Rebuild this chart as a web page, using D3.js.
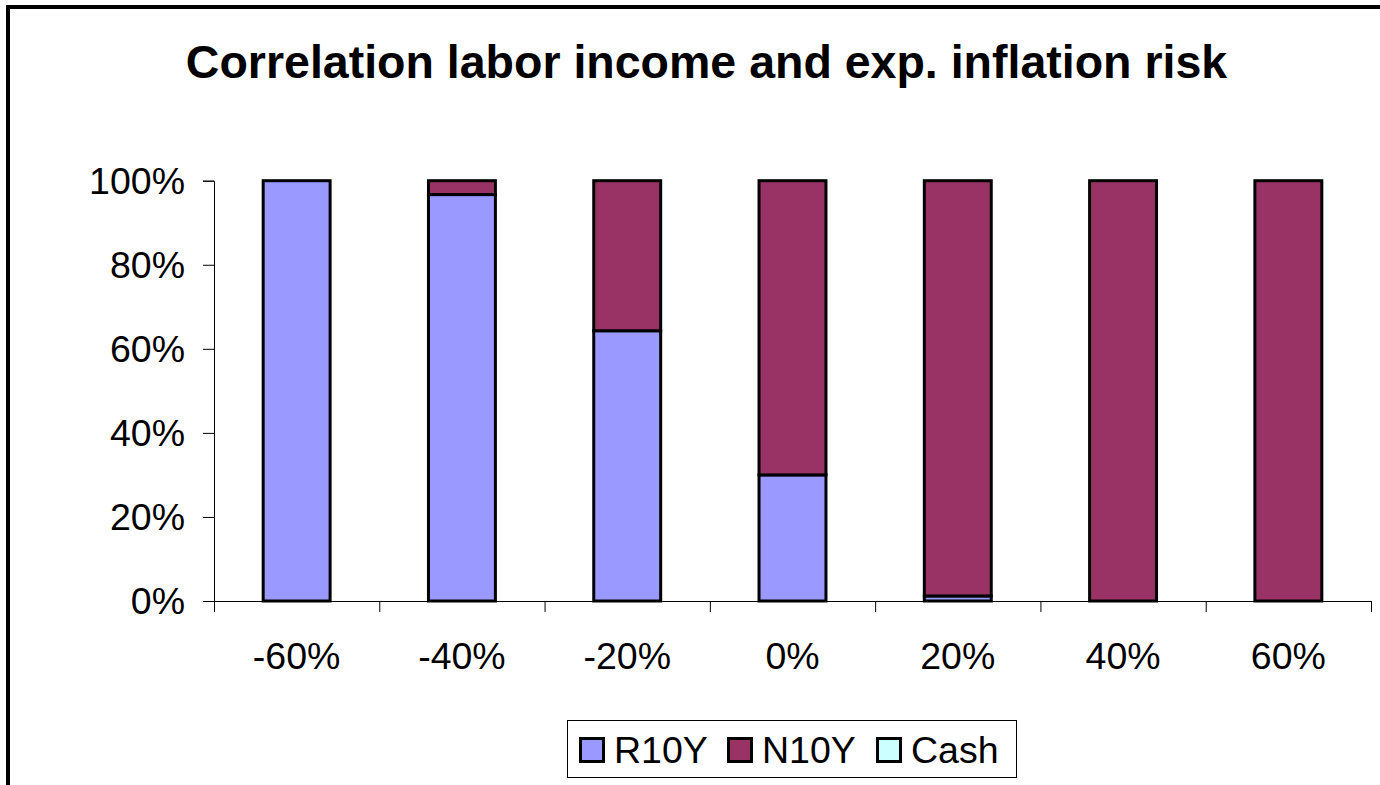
<!DOCTYPE html>
<html>
<head>
<meta charset="utf-8">
<script src="https://cdn.jsdelivr.net/npm/d3@7"></script>
<style>
  html, body { margin: 0; padding: 0; background: #fff; overflow: hidden; }
  svg text { font-family: "Liberation Sans", Arial, sans-serif; fill: #000; }
</style>
</head>
<body>
<svg id="chart"></svg>
<script>
const width = 1380;
const height = 785;

// data
const categories = ['-60%', '-40%', '-20%', '0%', '20%', '40%', '60%'];
const r10y = [1.0, 0.967, 0.643, 0.30, 0.012, 0, 0];
const n10y = [0, 0.033, 0.357, 0.70, 0.988, 1.0, 1.0];
const cash = [0, 0, 0, 0, 0, 0, 0];
const seriesNames = ['R10Y', 'N10Y', 'Cash'];
const colors = ['#9999FF', '#993366', '#CCFFFF'];
const yTicks = [0, 0.2, 0.4, 0.6, 0.8, 1.0];

const plot = { left: 214, right: 1371, top: 180.7, bottom: 601 };

const svg = d3.select('#chart').attr('width', width).attr('height', height);

// outer frame (runs off the right and bottom edges)
svg.append('path')
  .attr('d', `M8,${height + 10} L8,7 L${width + 10},7`)
  .attr('fill', 'none')
  .attr('stroke', '#000')
  .attr('stroke-width', 4);

svg.append('text')
  .attr('x', 706.5)
  .attr('y', 78)
  .attr('text-anchor', 'middle')
  .style('font-size', '46.5px')
  .style('font-weight', 'bold')
  .text('Correlation labor income and exp. inflation risk');

const x = d3.scaleBand().domain(categories).range([plot.left, plot.right]).padding(0);
const xEdges = d3.scaleLinear().domain([0, categories.length]).range([plot.left, plot.right]);
const y = d3.scaleLinear().domain([0, 1]).range([plot.bottom, plot.top]);

const table = categories.map((c, i) => ({ cat: c, R10Y: r10y[i], N10Y: n10y[i], Cash: cash[i] }));
const stacked = d3.stack().keys(seriesNames)(table);

// y axis
const yAxis = svg.append('g')
  .attr('transform', `translate(${plot.left},0)`)
  .call(d3.axisLeft(y).tickValues(yTicks).tickSize(11).tickPadding(18).tickFormat(d3.format('.0%')));
yAxis.selectAll('path, line').attr('stroke', '#000').attr('stroke-width', 1);
yAxis.selectAll('text').style('font-size', '37.5px').attr('dy', '0.33em');

// x axis: ticks on band edges
const xAxis = svg.append('g')
  .attr('transform', `translate(0,${plot.bottom})`)
  .call(d3.axisBottom(xEdges).ticks(categories.length).tickSize(11).tickFormat('').tickSizeOuter(0));
xAxis.selectAll('path, line').attr('stroke', '#000').attr('stroke-width', 1);

svg.append('g').selectAll('text')
  .data(categories)
  .join('text')
  .attr('x', d => x(d) + x.bandwidth() / 2)
  .attr('y', 669)
  .attr('text-anchor', 'middle')
  .style('font-size', '37.5px')
  .text(d => d);

// bars
const barW = x.bandwidth() * 0.405;
svg.append('g').selectAll('g')
  .data(stacked)
  .join('g')
  .attr('fill', (d, i) => colors[i])
  .selectAll('rect')
  .data(d => d.filter(s => s[1] - s[0] > 0))
  .join('rect')
  .attr('x', d => x(d.data.cat) + (x.bandwidth() - barW) / 2)
  .attr('y', d => y(d[1]))
  .attr('width', barW)
  .attr('height', d => y(d[0]) - y(d[1]))
  .attr('stroke', '#000')
  .attr('stroke-width', 3);

// legend
const legend = svg.append('g');
legend.append('rect')
  .attr('x', 567.5).attr('y', 720.5)
  .attr('width', 449).attr('height', 57)
  .attr('fill', '#fff')
  .attr('stroke', '#000')
  .attr('stroke-width', 1);

const legendX = [579, 727, 876];
const items = legend.selectAll('g.item')
  .data(seriesNames)
  .join('g')
  .attr('class', 'item')
  .attr('transform', (d, i) => `translate(${legendX[i]},737)`);
items.append('rect')
  .attr('x', 1.5).attr('y', 1.5)
  .attr('width', 23).attr('height', 23)
  .attr('fill', (d, i) => colors[i])
  .attr('stroke', '#000')
  .attr('stroke-width', 3);
items.append('text')
  .attr('x', 35)
  .attr('y', 26)
  .style('font-size', '37.5px')
  .text(d => d);
</script>
</body>
</html>
